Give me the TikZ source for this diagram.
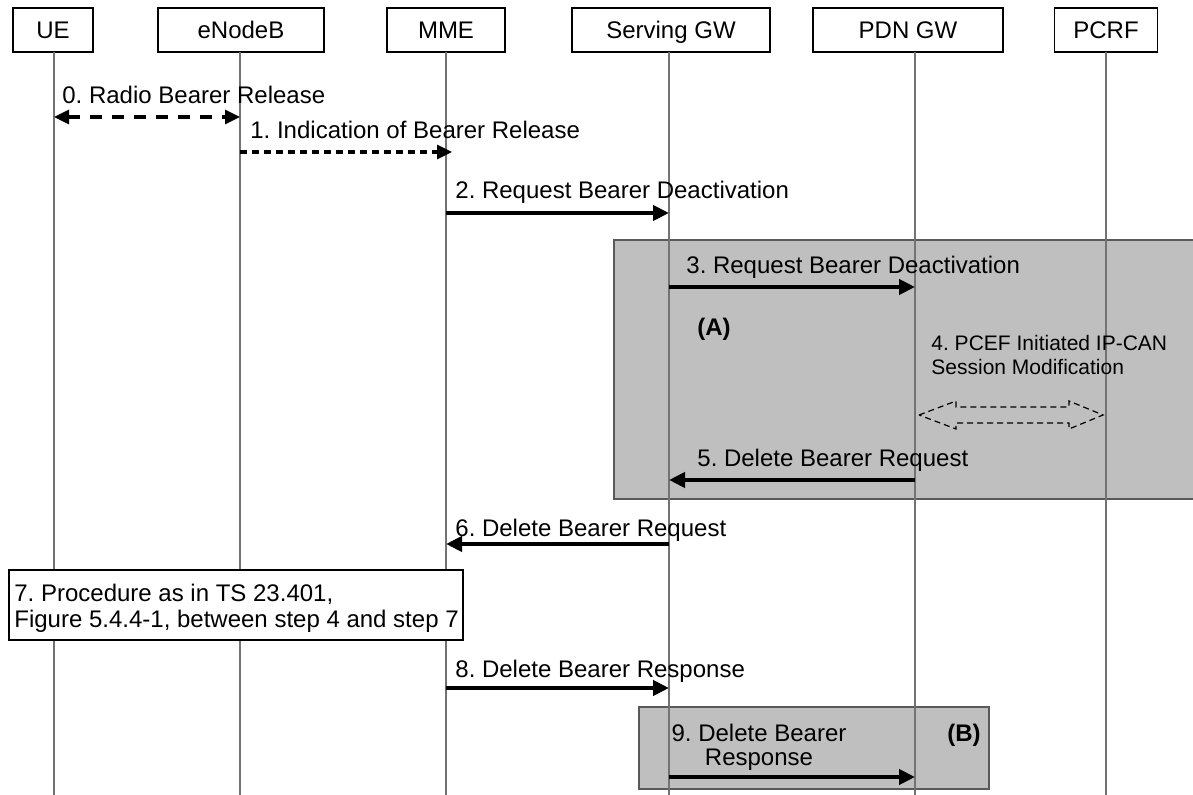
\documentclass[tikz,border=0pt]{standalone}
\usepackage{fontspec}
\setmainfont{Liberation Sans}
\usetikzlibrary{arrows.meta,calc}
\frenchspacing

\begin{document}
\begin{tikzpicture}[x=0.5pt, y=-0.5pt, font=\fontsize{12}{12}\selectfont]
	\tikzset{actor/.style={draw, line width=0.6pt, minimum height=22pt, inner sep=0pt, text height=8.6pt, text depth=0pt},
		life/.style={draw=black!55, line width=0.6pt},
		grp/.style={fill=black!25, draw=black!65, line width=0.6pt},
		lbl/.style={anchor=base west, inner sep=0pt},
		tag/.style={lbl, font=\fontsize{12}{12}\selectfont\bfseries},
		msg/.style={-{Triangle[length=8pt, width=7.5pt]}, line width=2pt},
		dmsg/.style={-{Triangle[length=7.5pt, width=7pt]}, line width=1.6pt},
		blk/.style={draw, line width=0.6pt, dash pattern=on 3pt off 2pt}}
	\useasboundingbox (0,0) rectangle (1193,795);

	% actors
	\node[actor, minimum width=40pt] (hue) at (53,30) {UE};
	\node[actor, minimum width=83pt] (henb) at (241,30) {eNodeB};
	\node[actor, minimum width=59pt] (hmme) at (446,30) {MME};
	\node[actor, minimum width=99pt] (hsgw) at (671,30) {Serving GW};
	\node[actor, minimum width=95pt] (hpgw) at (908,30) {PDN GW};
	\node[actor, minimum width=51.5pt] (hpcrf) at (1106,30) {PCRF};

	% shaded groups (A) and (B)
	\draw[grp] (614,240) rectangle (1210,499);
	\draw[grp] (639,707) rectangle (989,789);

	% lifelines
	\coordinate (ue) at (54,52);
	\coordinate (enb) at (240,52);
	\coordinate (mme) at (446,52);
	\coordinate (sgw) at (669,52);
	\coordinate (pgw) at (915,52);
	\coordinate (pcrf) at (1106,52);
	\coordinate (bot) at (0,795);
	\foreach \a in {ue,enb,mme,sgw,pgw,pcrf}
		\draw[life] (\a) -- (\a |- bot);

	% message rows
	\coordinate (m0) at (0,117);
	\coordinate (m1) at (0,152);
	\coordinate (m2) at (0,213);
	\coordinate (m3) at (0,287);
	\coordinate (m4) at (0,415);
	\coordinate (m5) at (0,480);
	\coordinate (m6) at (0,544);
	\coordinate (m8) at (0,688);
	\coordinate (m9) at (0,777);

	% 0 and 1, dashed
	\node[lbl] (t0) at (62,104) {0. Radio Bearer Release};
	\draw[dmsg, {Triangle[length=7.5pt, width=7pt]}-{Triangle[length=7.5pt, width=7pt]}, dash pattern=on 6pt off 5pt] (ue |- m0) -- (enb |- m0);
	\node[lbl] (t1) at (250,139) {1. Indication of Bearer Release};
	\draw[dmsg, dash pattern=on 3.5pt off 2.5pt, shorten >=-3pt] (enb |- m1) -- (mme |- m1);

	\node[lbl] (t2) at (455,199) {2. Request Bearer Deactivation};
	\draw[msg] (mme |- m2) -- (sgw |- m2);

	% group (A)
	\node[lbl] (t3) at (686,274) {3. Request Bearer Deactivation};
	\draw[msg] (sgw |- m3) -- (pgw |- m3);
	\node[tag] (ga) at (697,336) {(A)};
	\node[anchor=north west, inner sep=0pt, align=left, font=\fontsize{10.5}{11.75}\selectfont] (t4) at (931,335)
		{4. PCEF Initiated IP-CAN\\Session Modification};
	\draw[blk] ($(pgw |- m4)+(4,0)$) -- ++(37,-14) -- ++(0,6) -- ($(pcrf |- m4)+(-37,-8)$) -- ++(0,-6)
		-- ($(pcrf |- m4)+(-3,0)$) -- ++(-34,14) -- ++(0,-6) -- ($(pgw |- m4)+(41,8)$) -- ++(0,6) -- cycle;
	\node[lbl] (t5) at (697,467) {5. Delete Bearer Request};
	\draw[msg] (pgw |- m5) -- (sgw |- m5);

	\node[lbl] (t6) at (455,537) {6. Delete Bearer Request};
	\draw[msg] (sgw |- m6) -- (mme |- m6);

	% 7, procedure box
	\draw[fill=white, line width=0.6pt] (9,570) rectangle (463,640);
	\node[anchor=north west, inner sep=0pt, align=left, font=\fontsize{12}{13}\selectfont] (t7) at (14,584)
		{7. Procedure as in TS 23.401,\\Figure 5.4.4-1, between step 4 and step 7};

	\node[lbl] (t8) at (455,677) {8. Delete Bearer Response};
	\draw[msg] (mme |- m8) -- (sgw |- m8);

	% group (B)
	\node[anchor=north, inner sep=0pt, align=center, font=\fontsize{12}{12}\selectfont] (t9) at (759,724)
		{9. Delete Bearer\\Response};
	\node[tag] (gb) at (947,741) {(B)};
	\draw[msg] (sgw |- m9) -- (pgw |- m9);
\end{tikzpicture}
\end{document}
